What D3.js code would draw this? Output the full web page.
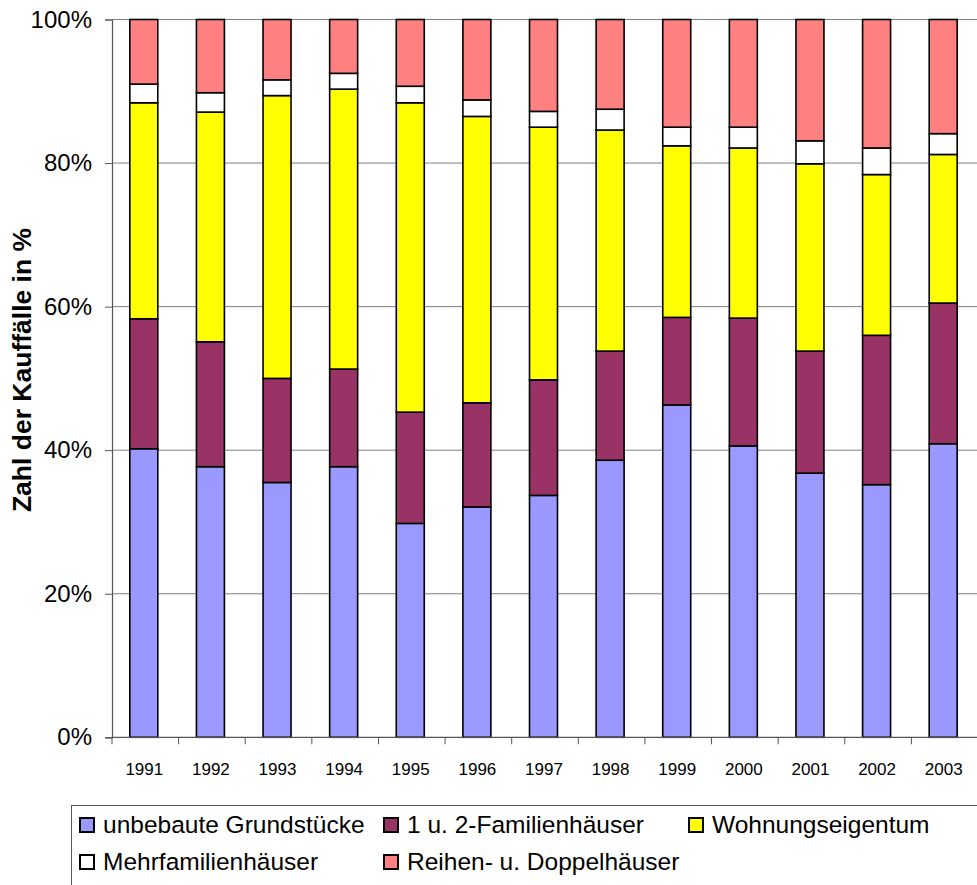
<!DOCTYPE html>
<head>
  <meta charset="utf-8">
  <title>Kauffälle</title>
  <script src="https://d3js.org/d3.v7.min.js"></script>
  <style>
    body { margin: 0; background: #fff; }
    text { font-family: "Liberation Sans", Arial, sans-serif; }
  </style>
</head>
<body>
  <div id="root"></div>
  <script>
    // years on the x axis
    var years = ["1991","1992","1993","1994","1995","1996","1997","1998","1999","2000","2001","2002","2003"];

    // shares in % per year
    var unbebaute   = [40.2, 37.7, 35.5, 37.7, 29.8, 32.1, 33.7, 38.6, 46.3, 40.6, 36.8, 35.2, 40.9];
    var familien12  = [18.1, 17.4, 14.5, 13.6, 15.5, 14.5, 16.1, 15.2, 12.2, 17.8, 17.0, 20.8, 19.6];
    var wohnung     = [30.1, 32.0, 39.4, 39.0, 43.1, 39.9, 35.2, 30.8, 23.9, 23.7, 26.1, 22.4, 20.7];
    var mehrfam     = [ 2.6,  2.7,  2.2,  2.2,  2.3,  2.3,  2.2,  2.9,  2.6,  2.9,  3.2,  3.7,  2.9];
    var reihen      = [ 9.0, 10.2,  8.4,  7.5,  9.3, 11.2, 12.8, 12.5, 15.0, 15.0, 16.9, 17.9, 15.9];

    var seriesNames = ["unbebaute Grundstücke", "1 u. 2-Familienhäuser", "Wohnungseigentum", "Mehrfamilienhäuser", "Reihen- u. Doppelhäuser"];
    var seriesValues = [unbebaute, familien12, wohnung, mehrfam, reihen];
    var colors = ["#9999FF", "#993366", "#FFFF00", "#FFFFFF", "#FF8080"];
    var yTicks = [0, 20, 40, 60, 80, 100];

    var W = 977, H = 885;
    var pLeft = 112, pRight = 978, pTop = 19.5, pBottom = 737.3;

    var svg = d3.select("#root").append("svg")
      .attr("width", W).attr("height", H);

    // rows for the stack
    var rows = years.map(function(y, i) {
      var r = { year: y };
      seriesNames.forEach(function(n, j) { r[n] = seriesValues[j][i]; });
      return r;
    });
    var stacked = d3.stack().keys(seriesNames)(rows);

    var x = d3.scaleBand().domain(years).range([pLeft, pRight]).padding(0);
    var y = d3.scaleLinear().domain([0, 100]).range([pBottom, pTop]);
    var barW = x.bandwidth() * 0.42;

    // gridlines
    svg.append("g").selectAll("line")
      .data(yTicks.filter(function(d){ return d > 0; }))
      .enter().append("line")
        .attr("x1", pLeft).attr("x2", pRight)
        .attr("y1", function(d){ return y(d); })
        .attr("y2", function(d){ return y(d); })
        .attr("stroke", "#808080").attr("stroke-width", 1);

    // y axis
    var yAxis = svg.append("g")
      .attr("transform", "translate(" + pLeft + ",0)")
      .call(d3.axisLeft(y).tickValues(yTicks).tickSize(7).tickPadding(13)
        .tickFormat(function(d){ return d + "%"; }));
    yAxis.select(".domain").attr("stroke", "#555").attr("stroke-width", 1.2);
    yAxis.selectAll(".tick line").attr("stroke", "#555");
    yAxis.selectAll("text")
      .style("font-size", "24px").attr("fill", "#000")
      .style("font-family", "'Liberation Sans', Arial, sans-serif");

    // bars
    svg.append("g").selectAll("g")
      .data(stacked)
      .enter().append("g")
        .attr("fill", function(d, i){ return colors[i]; })
      .selectAll("rect")
      .data(function(d){ return d; })
      .enter().append("rect")
        .attr("x", function(d){ return x(d.data.year) + (x.bandwidth() - barW) / 2 - 1.5; })
        .attr("width", barW)
        .attr("y", function(d){ return y(d[1]); })
        .attr("height", function(d){ return y(d[0]) - y(d[1]); })
        .attr("stroke", "#000").attr("stroke-width", 1.6);

    // x axis
    var xg = svg.append("g");
    xg.append("line")
      .attr("x1", pLeft).attr("x2", pRight)
      .attr("y1", pBottom).attr("y2", pBottom)
      .attr("stroke", "#555").attr("stroke-width", 1.2);
    xg.selectAll(".xtick")
      .data(years.concat(["end"]))
      .enter().append("line")
        .attr("x1", function(d){ return d === "end" ? pRight : x(d); })
        .attr("x2", function(d){ return d === "end" ? pRight : x(d); })
        .attr("y1", pBottom).attr("y2", pBottom + 7)
        .attr("stroke", "#555");
    xg.selectAll(".xlabel")
      .data(years)
      .enter().append("text")
        .attr("x", function(d){ return x(d) + x.bandwidth() / 2 - 1; })
        .attr("y", 775)
        .attr("text-anchor", "middle")
        .style("font-size", "17px")
        .text(function(d){ return d; });

    // y axis title
    svg.append("text")
      .attr("transform", "translate(31,370) rotate(-90)")
      .attr("text-anchor", "middle")
      .style("font-size", "26.5px").style("font-weight", "bold")
      .text("Zahl der Kauffälle in %");

    // legend
    var lg = svg.append("g");
    lg.append("rect")
      .attr("x", 71.5).attr("y", 805.5)
      .attr("width", 920).attr("height", 100)
      .attr("fill", "#fff").attr("stroke", "#555").attr("stroke-width", 1);

    var legendPos = [[79, 825], [383, 825], [688, 825], [79, 862], [383, 862]];
    var items = lg.selectAll(".item")
      .data(seriesNames)
      .enter().append("g")
        .attr("transform", function(d, i){ return "translate(" + legendPos[i][0] + "," + legendPos[i][1] + ")"; });
    items.append("rect")
      .attr("x", 1).attr("y", -7)
      .attr("width", 14).attr("height", 14)
      .attr("fill", function(d, i){ return colors[i]; })
      .attr("stroke", "#000").attr("stroke-width", 2);
    items.append("text")
      .attr("x", 24).attr("y", 8)
      .style("font-size", "24.5px")
      .text(function(d){ return d; });
  </script>
</body>
